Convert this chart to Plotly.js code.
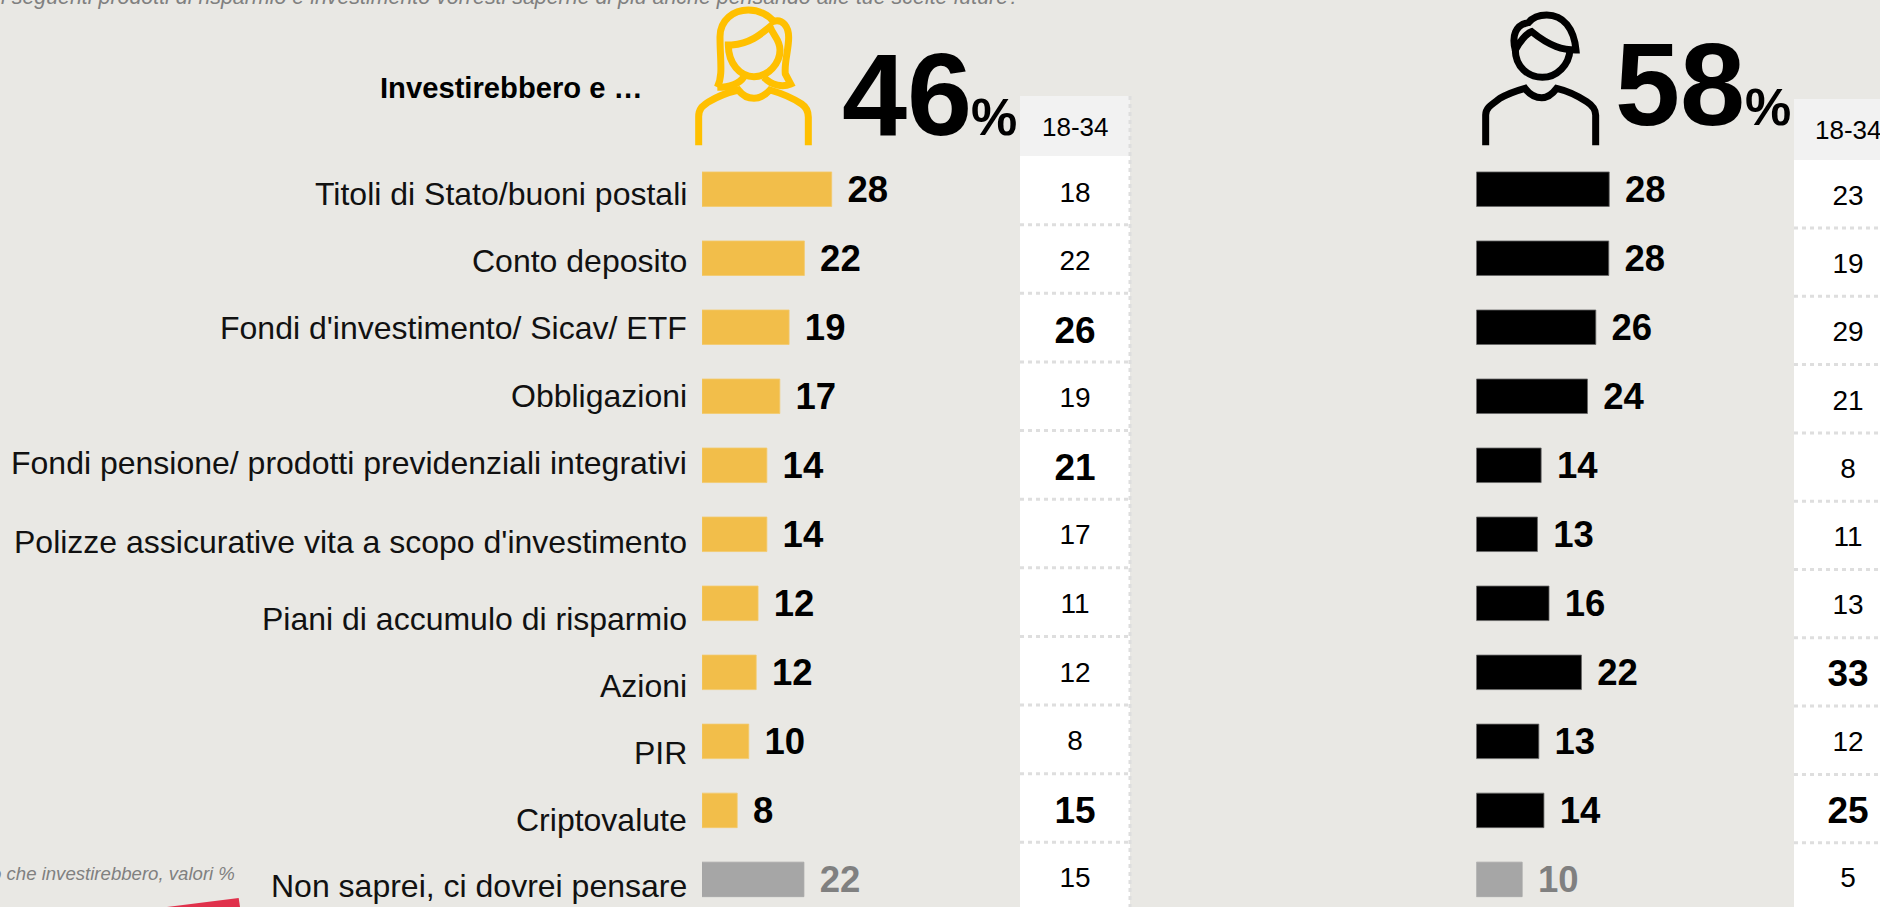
<!DOCTYPE html>
<html><head><meta charset="utf-8">
<script src="https://cdn.plot.ly/plotly-3.0.1.min.js"></script>
<style>html,body{margin:0;padding:0;background:#e9e8e4;overflow:hidden}</style>
</head><body><div id="chart" style="width:1880px;height:907px"></div>
<script>
const categories = ["Titoli di Stato/buoni postali","Conto deposito","Fondi d'investimento/ Sicav/ ETF","Obbligazioni","Fondi pensione/ prodotti previdenziali integrativi","Polizze assicurative vita a scopo d'investimento","Piani di accumulo di risparmio","Azioni","PIR","Criptovalute","Non saprei, ci dovrei pensare"];
const womenBars = [28,22.1,18.8,16.8,14,14,12.1,11.7,10.1,7.6,22];
const womenLabels = [28,22,19,17,14,14,12,12,10,8,22];
const menBars = [28.7,28.6,25.8,24,14,13.2,15.7,22.7,13.5,14.6,9.9];
const menLabels = [28,28,26,24,14,13,16,22,13,14,10];
const women1834 = [18,22,26,19,21,17,11,12,8,15,15];
const women1834Bold = [0,0,1,0,1,0,0,0,0,1,0];
const men1834 = [23,19,29,21,8,11,13,33,12,25,5];
const men1834Bold = [0,0,0,0,0,0,0,1,0,1,0];
const labelNudge = [-5,-3,-1,0,2,-8,-16,-14,-12,-10,-7];

const W=1880,H=907,BG='#e9e8e4',FONT='"Liberation Sans",Arial,sans-serif';
const YEL='#f2be4a',GREY='#a6a6a6',GTXT='#808080',AMBER='#ffc000';
const px=x=>x/W, py=y=>1-y/H;
const PXU=4.632, ROW=69.02, ROW0=189.2;
const n=categories.length;
const rowColors=c=>categories.map((_,i)=>i===n-1?GREY:c);
function bar(vals,c,edge,xa){return {type:'bar',orientation:'h',x:vals,y:categories.map((_,i)=>i),width:0.5,xaxis:xa,yaxis:'y',marker:{color:rowColors(c),line:{color:rowColors(edge),width:0.8}},hoverinfo:'skip'};}
function barText(vals,labels,xa){return {type:'scatter',mode:'text',x:vals,y:vals.map((_,i)=>i+0.05),text:labels.map(String),textposition:'middle right',xaxis:xa,yaxis:'y',
  textfont:{family:FONT,size:36.5,weight:700,color:labels.map((_,i)=>i===n-1?GTXT:'#000')},hoverinfo:'skip',cliponaxis:false};}
function tableText(vals,bold,xa,ya){return {type:'scatter',mode:'text',x:vals.map(()=>0.5),y:vals.map((_,i)=>i+(bold[i]?0.025:0)),text:vals.map(String),textposition:'middle center',xaxis:xa,yaxis:ya,
  textfont:{family:FONT,size:bold.map(b=>b?37:28),weight:bold.map(b=>b?700:400),color:'#000'},hoverinfo:'skip',cliponaxis:false};}
const traces=[bar(womenBars,YEL,'#f4ca6c','x'),bar(menBars,'#000','#666','x2'),
  barText(womenBars.map(v=>v+3.4),womenLabels,'x'),barText(menBars.map(v=>v+3.4),menLabels,'x2'),
  tableText(women1834,women1834Bold,'x3','y3'),tableText(men1834,men1834Bold,'x4','y4')];

function icon(d,ox,oy){ // icon outlines drawn in 3x crop units
  let k=0; return d.replace(/-?\d+(\.\d+)?/g,m=>{const v=+m;const r=(k%2===0)?px(ox+v/3):py(oy+v/3);k++;return r.toFixed(5);});
}
const wIcon=["M116 436 L116 350 C116 325 128 318 145 306 C175 288 205 277 235 270 C245 283 262 295 282 295 C302 295 318 283 330 270 C365 280 395 292 425 312 C440 322 445 335 445 352 L445 436",
 "M172 262 C190 225 180 180 180 110 C180 60 220 30 265 30 C300 30 328 48 340 64 C368 55 386 80 386 112 C386 150 372 190 376 222 L392 252 C370 262 335 258 312 232",
 "M172 262 C205 262 235 255 252 230",
 "M205 135 C205 190 240 230 282 230 C325 230 360 190 360 150 C360 118 340 108 330 80 C300 105 270 130 215 135 Z"];
const mIcon=["M107 436 L107 345 C107 322 128 312 150 295 C175 280 200 272 225 265 C240 285 258 293 275 293 C292 293 305 285 320 265 C350 272 380 285 410 305 C430 318 437 330 437 345 L437 436",
 "M196 150 C196 200 235 232 277 232 C320 232 358 195 360 148",
 "M196 150 C185 110 195 75 235 68 C250 50 270 45 290 45 C340 45 372 85 378 150 C340 150 300 140 245 95 C230 100 208 125 196 150 Z"];
const shapes=[];
function rect(x0,y0,x1,y1,c){shapes.push({type:'rect',layer:'below',xref:'paper',yref:'paper',x0:px(x0),x1:px(x1),y0:py(y0),y1:py(y1),fillcolor:c,line:{width:0}});}
rect(1020,96,1130,907,'#fff');rect(1020,96,1130,156,'#f2f2f2');
rect(1794,99,1880,907,'#fff');rect(1794,99,1880,160,'#f2f2f2');
function dots(x0,y0,x1,y1){shapes.push({type:'line',layer:'below',xref:'paper',yref:'paper',x0:px(x0),x1:px(x1),y0:py(y0),y1:py(y1),line:{color:'#dedede',width:3,dash:'4px,4px'}});}
for(let i=0;i<10;i++){dots(1020,224.7+68.62*i,1130,224.7+68.62*i);dots(1794,228+68.3*i,1880,228+68.3*i);}
dots(1130,96,1130,907);
wIcon.forEach(d=>shapes.push({type:'path',xref:'paper',yref:'paper',path:icon(d,660,0),line:{color:AMBER,width:7},fillcolor:'rgba(0,0,0,0)'}));
mIcon.forEach(d=>shapes.push({type:'path',xref:'paper',yref:'paper',path:icon(d,1450,0),line:{color:'#000',width:7},fillcolor:'rgba(0,0,0,0)'}));
shapes.push({type:'path',xref:'paper',yref:'paper',path:`M${px(167)} ${py(907)} L${px(238.7)} ${py(898)} L${px(240)} ${py(907)} Z`,fillcolor:'#e0314b',line:{width:0}});

function note(text,x,y,size,o={}){return Object.assign({xref:'paper',yref:'paper',x:px(x),y:py(y),text,showarrow:false,xanchor:'left',yanchor:'middle',font:{family:FONT,size,color:'#000'},borderpad:0},o);}
const annotations=categories.map((c,i)=>({xref:'paper',yref:'y',x:px(687.5),y:i,yshift:labelNudge[i],text:c,showarrow:false,xanchor:'right',yanchor:'middle',font:{family:FONT,size:32,color:'#111'},borderpad:0}));
annotations.push(
 note('<b>Investirebbero e …</b>',379,88,29.2),
 note('<b>46</b>',841,94,117),note('<b>%</b>',970,117,52),
 note('<b>58</b>',1614,84,117),note('<b>%</b>',1744,107,52),
 note('18-34',1075,127,26,{xanchor:'center'}),note('18-34',1848,130,26,{xanchor:'center'}),
 note('<i>i seguenti prodotti di risparmio e investimento vorresti saperne di più anche pensando alle tue scelte future?</i>',1021,-3,21.4,{xanchor:'right',font:{family:FONT,size:21.4,color:GTXT}}),
 note('<i>o che investirebbero, valori %</i>',236,873,18.6,{xanchor:'right',font:{family:FONT,size:18.6,color:GTXT}})
);
const hidden={visible:false,fixedrange:true};
const layout={width:W,height:H,margin:{l:0,r:0,t:0,b:0},paper_bgcolor:BG,plot_bgcolor:'rgba(0,0,0,0)',showlegend:false,barmode:'overlay',
 xaxis:{...hidden,domain:[px(702),px(1020)],range:[0,318/PXU],anchor:'y'},
 xaxis2:{...hidden,domain:[px(1476.3),px(1794)],range:[0,317.7/PXU],anchor:'y'},
 xaxis3:{...hidden,domain:[px(1020),px(1130)],range:[0,1],anchor:'y3'},
 xaxis4:{...hidden,domain:[px(1794),px(1880)],range:[0,86/108],anchor:'y4'},
 yaxis:{...hidden,domain:[0,1],range:[(H-ROW0)/ROW,-ROW0/ROW],anchor:'x'},
 yaxis3:{...hidden,domain:[0,1],range:[(H-194.7)/68.55,-194.7/68.55],anchor:'x3'},
 yaxis4:{...hidden,domain:[0,1],range:[(H-198)/68.2,-198/68.2],anchor:'x4'},
 shapes,annotations};
Plotly.newPlot('chart',traces,layout,{staticPlot:true,displayModeBar:false});
</script></body></html>
